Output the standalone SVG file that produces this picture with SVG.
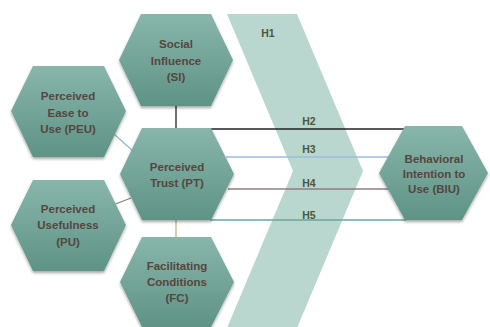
<svg xmlns="http://www.w3.org/2000/svg" width="490" height="327" viewBox="0 0 490 327">
  <defs>
    <linearGradient id="hexFill" x1="0" y1="0" x2="0" y2="1">
      <stop offset="0" stop-color="#88b6aa"/>
      <stop offset="1" stop-color="#5e9385"/>
    </linearGradient>
    <filter id="shadow" x="-10%" y="-10%" width="120%" height="125%">
      <feGaussianBlur in="SourceAlpha" stdDeviation="1.5"/>
      <feOffset dx="0" dy="2" result="b"/>
      <feComponentTransfer><feFuncA type="linear" slope="0.35"/></feComponentTransfer>
      <feMerge><feMergeNode/><feMergeNode in="SourceGraphic"/></feMerge>
    </filter>
    <style>
      .hex { fill: url(#hexFill); filter: url(#shadow); }
      .lbl { font-family: "Liberation Sans", Arial, sans-serif; font-weight: bold; font-size: 11.5px; fill: #574540; text-anchor: middle; }
      .h { font-family: "Liberation Sans", Arial, sans-serif; font-weight: bold; font-size: 10.5px; fill: #4e5636; text-anchor: middle; }
      .ln { fill: none; stroke-width: 1.3; }
    </style>
  </defs>

  <rect width="490" height="327" fill="#ffffff"/>

  <!-- H1 chevron band -->
  <g id="h1-band">
    <polygon points="227,14 297,14 363,171 297,328 227,328 293,171" fill="#b9d6cf"/>
    <text class="h" x="268" y="37">H1</text>
  </g>

  <!-- connectors -->
  <g id="connectors">
    <line class="ln" x1="176" y1="106" x2="176" y2="129" stroke="#222222" stroke-width="2"/>
    <line class="ln" x1="210" y1="129" x2="406" y2="129" stroke="#222222" stroke-width="2"/>
    <line class="ln" x1="114" y1="134" x2="134" y2="152" stroke="#8fb6dc"/>
    <line class="ln" x1="226" y1="157" x2="392" y2="157" stroke="#9cbcdc"/>
    <line class="ln" x1="113" y1="205" x2="131" y2="198" stroke="#8e7e80"/>
    <line class="ln" x1="228" y1="189" x2="388" y2="189" stroke="#8e7e80"/>
    <line class="ln" x1="210" y1="220" x2="406" y2="220" stroke="#6aa79a"/>
    <line class="ln" x1="176" y1="220" x2="176" y2="237" stroke="#b8b880"/>
    <text class="h" x="309" y="125">H2</text>
    <text class="h" x="309" y="153">H3</text>
    <text class="h" x="309" y="187">H4</text>
    <text class="h" x="309" y="219">H5</text>
  </g>

  <g id="si">
    <polygon class="hex" points="119,60 141,14 211,14 233,60 211,106 141,106"/>
    <text class="lbl" x="176" y="48">Social</text>
    <text class="lbl" x="176" y="65">Influence</text>
    <text class="lbl" x="176" y="81">(SI)</text>
  </g>

  <g id="peu">
    <polygon class="hex" points="11,111 33,66 104,66 126,111 104,157 33,157"/>
    <text class="lbl" x="68" y="100">Perceived</text>
    <text class="lbl" x="68" y="117">Ease to</text>
    <text class="lbl" x="68" y="133">Use (PEU)</text>
  </g>

  <g id="pu">
    <polygon class="hex" points="11,225 33,180 104,180 126,225 104,271 33,271"/>
    <text class="lbl" x="68" y="213">Perceived</text>
    <text class="lbl" x="68" y="229">Usefulness</text>
    <text class="lbl" x="68" y="246">(PU)</text>
  </g>

  <g id="pt">
    <polygon class="hex" points="120,174 142,128 211,128 234,174 211,220 142,220"/>
    <text class="lbl" x="177" y="171">Perceived</text>
    <text class="lbl" x="177" y="187">Trust (PT)</text>
  </g>

  <g id="fc">
    <polygon class="hex" points="120,282 142,237 211,237 234,282 211,327 142,327"/>
    <text class="lbl" x="177" y="270">Facilitating</text>
    <text class="lbl" x="177" y="286">Conditions</text>
    <text class="lbl" x="177" y="302">(FC)</text>
  </g>

  <g id="biu">
    <polygon class="hex" points="379,173 405,126 462,126 488,173 462,220 405,220"/>
    <text class="lbl" x="434" y="163">Behavioral</text>
    <text class="lbl" x="434" y="178">Intention to</text>
    <text class="lbl" x="434" y="193">Use (BIU)</text>
  </g>
</svg>
